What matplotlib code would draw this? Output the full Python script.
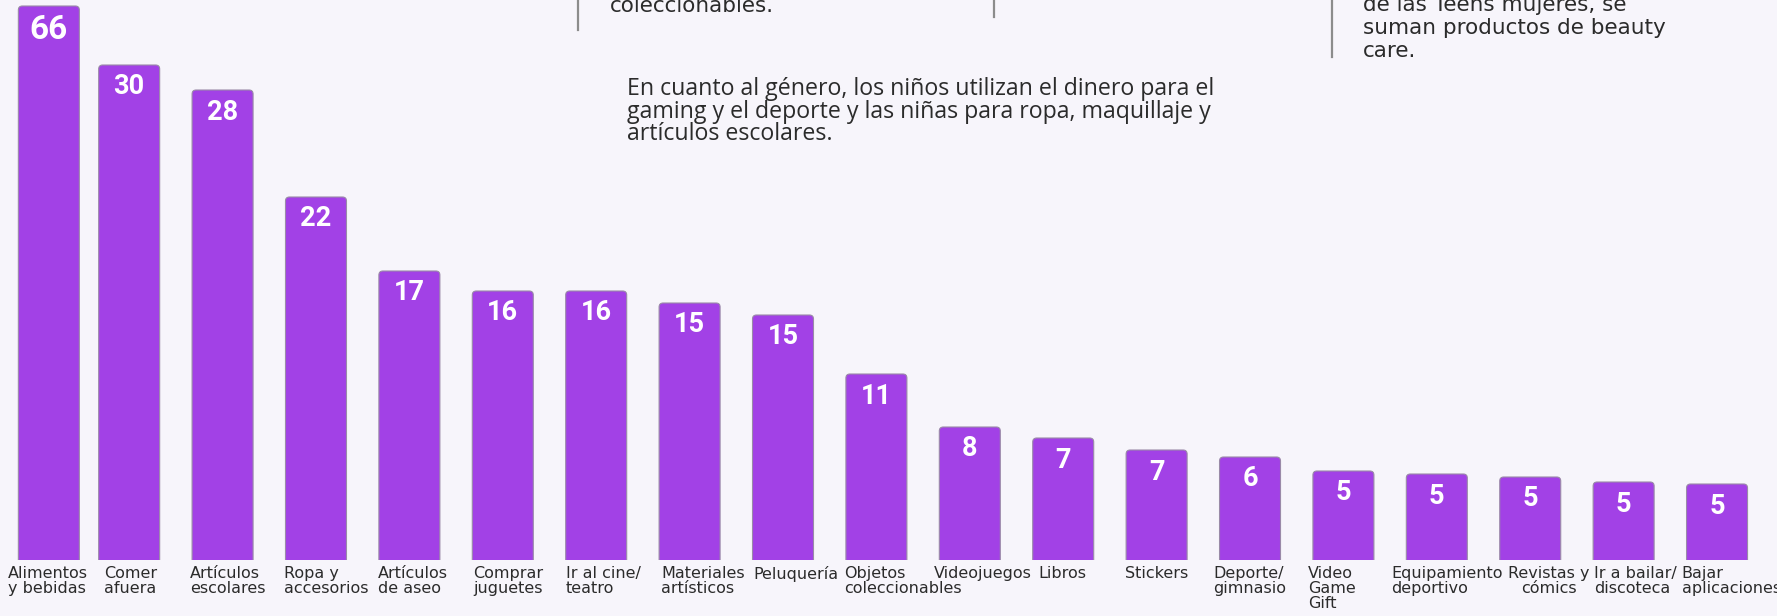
import matplotlib
matplotlib.use("Agg")
import matplotlib.pyplot as plt
from matplotlib.patches import FancyBboxPatch
from matplotlib.lines import Line2D
import numpy as np

# ---------------- data ----------------
categories = ["Alimentos\ny bebidas", "Comer\nafuera", "Artículos\nescolares",
              "Ropa y\naccesorios", "Artículos\nde aseo", "Comprar\njuguetes",
              "Ir al cine/\nteatro", "Materiales\nartísticos", "Peluquería",
              "Objetos\ncoleccionables", "Videojuegos", "Libros", "Stickers",
              "Deporte/\ngimnasio", "Video\nGame\nGift", "Equipamiento\ndeportivo",
              "Revistas y\ncómics", "Ir a bailar/\ndiscoteca", "Bajar\naplicaciones"]
values = [66, 30, 28, 22, 17, 16, 16, 15, 15, 11, 8, 7, 7, 6, 5, 5, 5, 5, 5]
# drawn bar heights as shown in the infographic (not to scale with values)
bar_heights = [554, 495, 470, 363, 289, 269, 269, 257, 245, 186,
               133, 122, 110, 103, 89, 86, 83, 78, 76]

middle_note = ["En cuanto al género, los niños utilizan el dinero para el",
               "gaming y el deporte y las niñas para ropa, maquillaje y",
               "artículos escolares."]
right_note = ["de las Teens mujeres, se", "suman productos de beauty", "care."]
left_note = ["coleccionables."]

# ---------------- layout / style ----------------
# horizontal nudge of each category label relative to its bar's left edge (px)
label_dx = [-10, 5, -2, -1, -1, 1, 0, 2, 1, -2, -5, 6, -1, -6, -5, -15, 8, 1, -5]
label_align = ["left"] * len(categories)
label_align[16] = "center"

W, H = 1777, 616
BG = "#F7F5FB"
BAR = "#A241E6"
TXT = "#2b2b2b"

fig = plt.figure(figsize=(W / 100, H / 100), dpi=100, facecolor=BG)
ax = fig.add_axes([0, 56 / H, 1, 560 / H])
ax.set_facecolor(BG)
ax.set_xlim(-0.383, 18.642)
ax.set_ylim(0, 560)
ax.axis("off")

x = np.arange(len(values), dtype=float)
x[0] += 0.14
width = 0.653

bars = ax.bar(x, bar_heights, width=width, color=BAR)
px_per_x = 93.4
r = 4 / px_per_x
for rect in bars:
    rect.set_visible(False)
    bx, bw, bh = rect.get_x(), rect.get_width(), rect.get_height()
    p = FancyBboxPatch((bx, -10), bw, bh + 10,
                       boxstyle=f"round,pad=0,rounding_size={r}",
                       mutation_aspect=px_per_x,
                       facecolor=BAR, edgecolor="#9a8aa8", linewidth=0.8)
    ax.add_patch(p)

for i, (v, h) in enumerate(zip(values, bar_heights)):
    fs = 24 if i == 0 else 19.5
    dy = -24 if i == 0 else -22
    ax.annotate(str(v), (x[i], h), xytext=(0, dy), textcoords="offset pixels",
                ha="center", va="center", color="white", fontsize=fs,
                fontweight="bold", family="Roboto")

for i, cat in enumerate(categories):
    ax.annotate(cat, (x[i] - width / 2, 0), xytext=(label_dx[i], -6),
                textcoords="offset pixels", ha="left", va="top",
                multialignment=label_align[i], fontsize=11.5, color=TXT,
                family="DejaVu Sans", linespacing=1.02, annotation_clip=False)


def fx(px):
    return px / W


def fy(py):
    return 1 - py / H


for k, line in enumerate(middle_note):
    fig.text(fx(627), fy(95 + 22.7 * k), line, ha="left", va="baseline",
             fontsize=16.7, color=TXT, family="Open Sans")

for k, line in enumerate(right_note):
    fig.text(fx(1363), fy(11 + 23 * k), line, ha="left", va="baseline",
             fontsize=15.5, color=TXT, family="DejaVu Sans")

for k, line in enumerate(left_note):
    fig.text(fx(610), fy(12), line, ha="left", va="baseline",
             fontsize=15.5, color=TXT, family="DejaVu Sans")

for (lx, y0, y1) in [(578, 0, 30), (994, 0, 17), (1332, 0, 57)]:
    fig.add_artist(Line2D([fx(lx), fx(lx)], [fy(y0), fy(y1)],
                          transform=fig.transFigure, color="#8c8c8c", lw=1.6))

fig.savefig("out.png", dpi=100, facecolor=BG)
